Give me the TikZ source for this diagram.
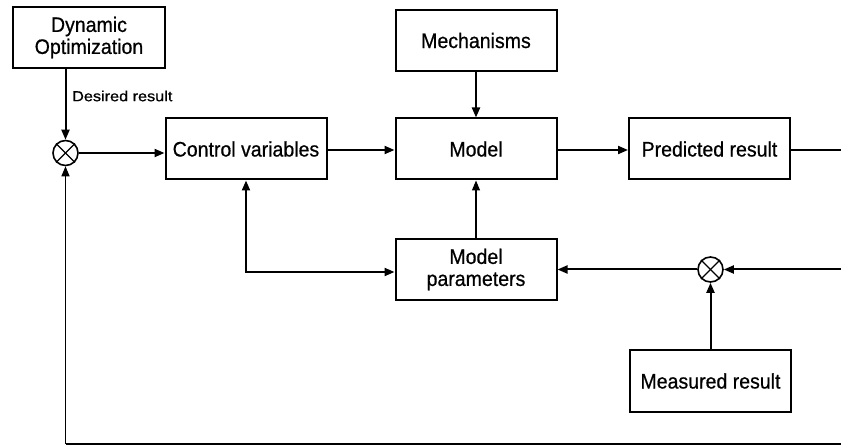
\documentclass[tikz,border=0pt]{standalone}
\usepackage{fontspec}
\setmainfont[FakeStretch=0.93,FakeBold=0.6]{Liberation Sans}
\newfontfamily\smallf[FakeStretch=1.12,FakeBold=0.8]{Liberation Sans}
\usetikzlibrary{arrows.meta}
\begin{document}
\begin{tikzpicture}[x=1pt,y=-1pt,
  box/.style={draw,line width=2pt,minimum width=161pt,minimum height=61pt,inner sep=0pt,align=center,font=\fontsize{21}{22}\selectfont},
  sumnode/.style={draw,circle,line width=1.6pt,minimum size=25pt,inner sep=0pt},
  conn/.style={line width=2pt,-{Triangle[length=10pt,width=8pt]}},
  thinconn/.style={line width=1.2pt,-{Triangle[length=10pt,width=8pt]}},
  plain/.style={line width=2pt}]
\useasboundingbox (0,0) rectangle (841,446);
\node[box,minimum width=152pt] (dyn) at (89,37.5) {Dynamic\\Optimization};
\node[box] (mech) at (476,40.5) {Mechanisms};
\node[box] (ctrl) at (246,149) {Control variables};
\node[box] (model) at (476,149) {Model};
\node[box] (pred) at (709.5,149) {Predicted result};
\node[box] (par) at (476,269.5) {Model\\parameters};
\node[box] (meas) at (710.5,381) {Measured result};
\node[sumnode] (s1) at (65.5,153) {};
\node[sumnode] (s2) at (710.5,269.5) {};
\foreach \s in {s1,s2}{
  \draw[line width=1.2pt] (\s.north west) -- (\s.south east);
  \draw[line width=1.2pt] (\s.north east) -- (\s.south west);
}
\node[anchor=west,inner sep=0pt,font=\smallf\fontsize{14.5}{15}\selectfont] (des) at (72,96) {Desired result};
\coordinate (r1) at (841,150);
\coordinate (r2) at (841,269.5);
\coordinate (r3) at (841,443.5);
\coordinate (b1) at (65.5,443.5);
\coordinate (c1) at (246,272);
% connectors
\draw[conn] (dyn.south -| s1) -- (s1.north);
\draw[conn] (s1.east) -- (s1 -| ctrl.west);
\draw[conn] (ctrl.east |- 0,150) -- (model.west |- 0,150);
\draw[conn] (mech.south) -- (model.north);
\draw[conn] (model.east |- 0,150) -- (pred.west |- 0,150);
\draw[plain] (pred.east |- r1) -- (r1);
\draw[thinconn] (par.north) -- (model.south);
\draw[line width=2pt,{Triangle[length=10pt,width=8pt]}-{Triangle[length=10pt,width=8pt]}] (ctrl.south) -- (c1) -- (c1 -| par.west);
\draw[conn] (s2.west) -- (s2 -| par.east);
\draw[conn] (r2) -- (s2.east);
\draw[conn] (meas.north) -- (s2.south);
\draw[plain] (r3) -- (b1);
\draw[line width=1.4pt,-{Triangle[length=10pt,width=8pt]}] (b1) -- (s1.south);
\end{tikzpicture}
\end{document}
